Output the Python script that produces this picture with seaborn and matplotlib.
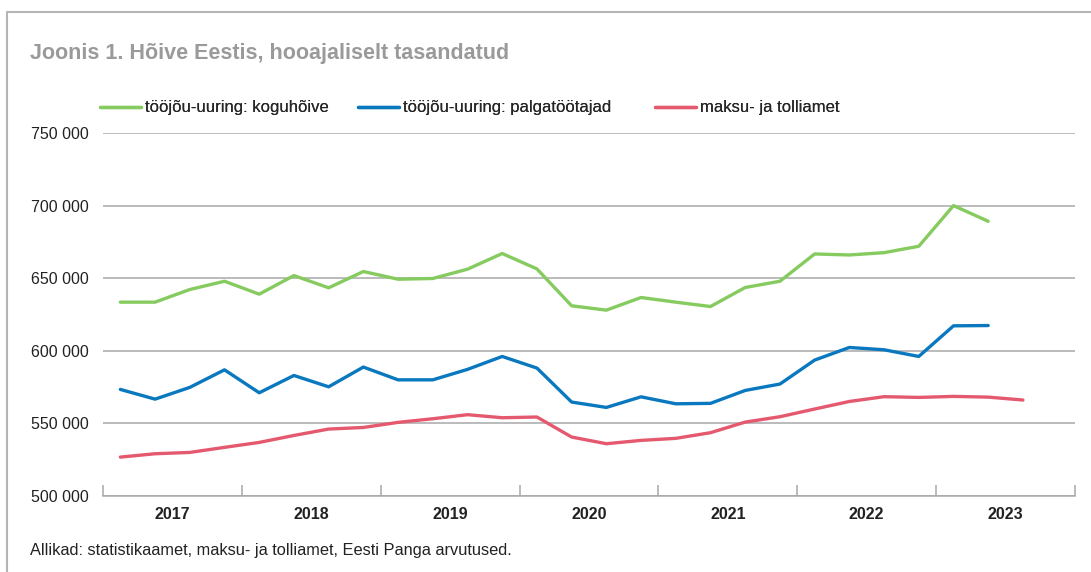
import numpy as np
import pandas as pd
import matplotlib.pyplot as plt
import seaborn as sns
from matplotlib.lines import Line2D
from matplotlib.ticker import FuncFormatter

# quarterly data, seasonally adjusted
years = [2017, 2018, 2019, 2020, 2021, 2022, 2023]
quarters = [(y, q) for y in years for q in (1, 2, 3, 4)]

koguhoive = [633500, 633500, 642200, 647900, 639000, 651800, 643400, 654600,
             649300, 649800, 656200, 667000, 656400, 631000, 628000, 636700,
             633500, 630500, 643600, 647900, 666700, 666000, 667600, 672000,
             700000, 689200]
palgatootajad = [573400, 566700, 574800, 586900, 571100, 583000, 575200, 588800,
                 580000, 580000, 587200, 596100, 588100, 564700, 561000, 568300,
                 563500, 563800, 572700, 577100, 593600, 602300, 600700, 596100,
                 617200, 617400]
maksuamet = [526800, 529100, 530000, 533500, 536900, 541700, 546100, 547200,
             550700, 553200, 556000, 553900, 554400, 540600, 536000, 538300,
             539700, 543600, 550900, 554600, 559900, 565100, 568400, 567900,
             568600, 568100, 566100]

series_names = ['tööjõu-uuring: koguhõive', 'tööjõu-uuring: palgatöötajad', 'maksu- ja tolliamet']
series_vals = [koguhoive, palgatootajad, maksuamet]
colors = ['#86cb5f', '#0a78be', '#e5596f']

rows = []
for name, vals in zip(series_names, series_vals):
    for (y, q), v in zip(quarters, vals):
        rows.append({'t': y + (q - 0.5) / 4, 'value': v, 'series': name})
df = pd.DataFrame(rows)

sns.set_theme(style='white')
plt.rcParams['font.family'] = ['Liberation Sans', 'DejaVu Sans']

W, H = 1091, 572
fig = plt.figure(figsize=(W / 100, H / 100), dpi=100)
ax = fig.add_axes([103 / W, 76 / H, 972 / W, 363 / H])

sns.lineplot(data=df, x='t', y='value', hue='series', hue_order=series_names,
             palette=colors, linewidth=2.4, estimator=None, sort=False, ax=ax)

ax.set_xlim(2017, 2024)
ax.set_ylim(500000, 750000)
ax.set_yticks([500000, 550000, 600000, 650000, 700000, 750000])
ax.yaxis.set_major_formatter(FuncFormatter(lambda v, p: f'{int(v):,}'.replace(',', ' ')))
ax.yaxis.grid(True, color='#a8a8a8', linewidth=1.1)
ax.tick_params(axis='y', length=0, pad=10, labelsize=11.5, labelcolor='#222222')

ax.set_xticks(range(2017, 2025))
ax.set_xticklabels([])
ax.set_xticks([y + 0.5 for y in years], minor=True)
ax.set_xticklabels([str(y) for y in years], minor=True, fontweight='bold', fontsize=11.5)
ax.tick_params(axis='x', which='major', bottom=True, direction='in', length=8, width=1.1,
               color='#a8a8a8')
ax.tick_params(axis='x', which='minor', bottom=True, length=0, pad=8, labelcolor='#222222')

for s in ['top', 'right', 'left']:
    ax.spines[s].set_visible(False)
ax.spines['bottom'].set_color('#a8a8a8')
ax.spines['bottom'].set_linewidth(1.1)
ax.set_xlabel('')
ax.set_ylabel('')

# legend: one entry per series, placed like the original
handles, labels = ax.get_legend_handles_labels()
ax.get_legend().remove()
legend_x = [100, 358, 655]
for h, lab, lx in zip(handles, labels, legend_x):
    leg = fig.legend([h], [lab], loc='center left', bbox_to_anchor=(lx / W, 1 - 108 / H),
                     frameon=False, fontsize=12, handlelength=2.45, handletextpad=0.25,
                     borderpad=0, borderaxespad=0)
    fig.add_artist(leg)

fig.text(30 / W, 1 - 54 / H, 'Joonis 1. Hõive Eestis, hooajaliselt tasandatud',
         fontsize=15.5, fontweight='bold', color='#9a9a9a', va='center', ha='left')
fig.text(30 / W, 1 - 551 / H, 'Allikad: statistikaamet, maksu- ja tolliamet, Eesti Panga arvutused.',
         fontsize=11.8, color='#222222', va='center', ha='left')

# panel frame
fig.add_artist(Line2D([7 / W, 7 / W], [0, 1 - 12 / H], transform=fig.transFigure,
                      color='#b5b5b5', linewidth=1.5))
fig.add_artist(Line2D([7 / W, 1], [1 - 12 / H, 1 - 12 / H], transform=fig.transFigure,
                      color='#b5b5b5', linewidth=1.5))

fig.savefig('out.png', dpi=100)
